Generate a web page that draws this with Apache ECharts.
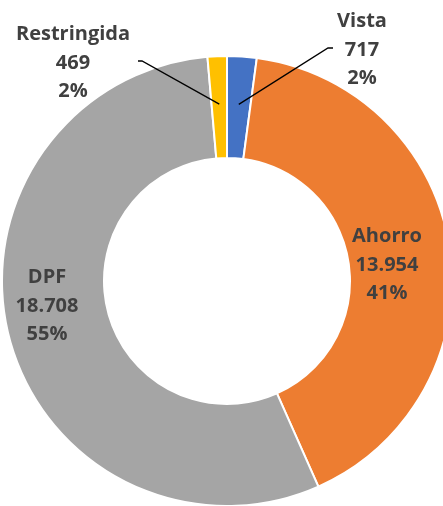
<!DOCTYPE html>
<html><head><meta charset="utf-8">
<script src="https://cdn.jsdelivr.net/npm/echarts@6/dist/echarts.min.js"></script>
<style>html,body{margin:0;padding:0;background:#fff}#c{width:443px;height:506px}</style>
</head><body><div id="c"></div>
<script>
const categories = ['Vista', 'Ahorro', 'DPF', 'Restringida'];
const values = [717, 13954, 18708, 469];
const percentLabels = ['2%', '41%', '55%', '2%'];
const colors = ['#4472C4', '#ED7D31', '#A5A5A5', '#FFC000'];

// layout config: label block centres and leader-line end offsets
const labelLayoutCfg = [
  {x: 362, y: 50, line: {ex: -29, bx: -34, dy: -2}},
  {x: 387, y: 265, line: null},
  {x: 47, y: 306, line: null},
  {x: 73, y: 63, line: {ex: 65, bx: 69, dy: -2}}
];
function fmt(v){ return String(v).replace(/\B(?=(\d{3})+(?!\d))/g, '.'); }

const chart = echarts.init(document.getElementById('c'), null, {renderer:'canvas'});
const option = {
  animation: false,
  backgroundColor: '#fff',
  series: [
    {
      type: 'pie', radius: [123, 225], center: [227, 281], startAngle: 90, clockwise: true,
      silent: true, avoidLabelOverlap: false, z: 1,
      label: {show: false}, labelLine: {show: false},
      itemStyle: {borderColor: '#fff', borderWidth: 2},
      data: categories.map((c, i) => ({name: c, value: values[i], itemStyle: {color: colors[i]}}))
    },
    {
      type: 'pie', radius: [0, 177], center: [227, 281], startAngle: 90, clockwise: true,
      silent: true, avoidLabelOverlap: false, z: 5,
      itemStyle: {color: 'rgba(0,0,0,0)', borderWidth: 0},
      label: {
        show: true, position: 'outside',
        formatter: p => p.name + '\n' + fmt(p.value) + '\n' + percentLabels[p.dataIndex],
        fontFamily: 'Open Sans', fontWeight: 'bold', fontSize: 20, lineHeight: 28.5,
        color: '#404040', align: 'center'
      },
      labelLine: {show: true, length: 10, length2: 10, lineStyle: {color: '#000', width: 1.3}},
      labelLayout: function (p) {
        const L = labelLayoutCfg[p.dataIndex];
        const res = {x: L.x, y: L.y, align: 'center', verticalAlign: 'middle'};
        if (L.line && p.labelLinePoints) {
          const start = p.labelLinePoints[0];
          const ey = L.y + L.line.dy;
          res.labelLinePoints = [start, [L.x + L.line.bx, ey], [L.x + L.line.ex, ey]];
        }
        return res;
      },
      data: categories.map((c, i) => ({
        name: c, value: values[i],
        labelLine: {show: labelLayoutCfg[i].line !== null}
      }))
    }
  ]
};
chart.setOption(option);
</script></body></html>
